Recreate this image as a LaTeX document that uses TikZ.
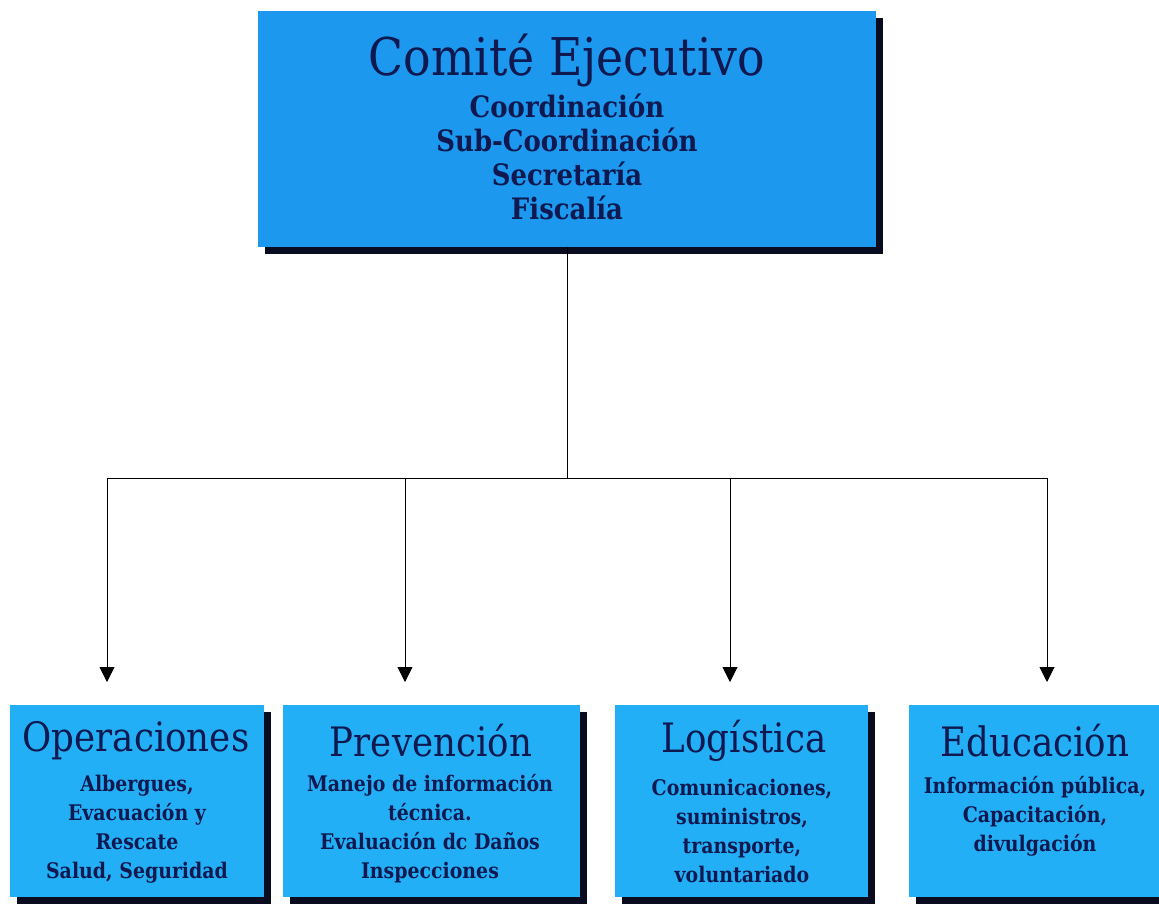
\documentclass[tikz,border=0pt]{standalone}
\usepackage{fontspec}
\setmainfont{DejaVu Serif}[FakeStretch=0.88]
\usetikzlibrary{arrows.meta,shadows}
\definecolor{topblue}{RGB}{28,152,238}
\definecolor{boxblue}{RGB}{35,175,245}
\definecolor{ink}{RGB}{15,25,80}
\definecolor{shade}{RGB}{8,12,30}
\begin{document}
\begin{tikzpicture}[x=1pt,y=-1pt,
  box/.style={draw=none, fill=#1, inner sep=0pt,
    general shadow={fill=shade, shadow xshift=7pt, shadow yshift=-7pt}},
  bigtitle/.style={text=ink, inner sep=0pt, font=\fontsize{52}{56}\selectfont},
  toplines/.style={text=ink, inner sep=0pt, align=center, font=\fontsize{29.5}{34}\selectfont\bfseries},
  subtitle/.style={text=ink, inner sep=0pt, font=\fontsize{40.5}{44}\selectfont},
  sublines/.style={text=ink, inner sep=0pt, align=center, font=\fontsize{21.5}{29}\selectfont\bfseries},
  conn/.style={draw=black, line width=0.9pt},
  arr/.style={conn, -{Triangle[width=15pt,length=15pt]}}
]
\useasboundingbox (0,0) rectangle (1159,903);
\fill[white] (0,0) rectangle (1159,903);
\clip (0,0) rectangle (1159,903);

% top box
\node[box=topblue, minimum width=618pt, minimum height=236pt] (top) at (567,129) {};
\node[bigtitle] (toptitle) at (567,60) {Comité Ejecutivo};
\node[toplines] (toptext) at (567,157) {Coordinación\\Sub-Coordinación\\Secretaría\\Fiscalía};

% bottom boxes
\node[box=boxblue, minimum width=254pt, minimum height=192pt] (op) at (137,801) {};
\node[box=boxblue, minimum width=297pt, minimum height=192pt] (pre) at (431.5,801) {};
\node[box=boxblue, minimum width=253pt, minimum height=192pt] (log) at (741.5,801) {};
\node[box=boxblue, minimum width=252pt, minimum height=192pt] (edu) at (1035,801) {};

\node[subtitle] (opt) at (136,741) {Operaciones};
\node[subtitle] (pret) at (431,741) {Prevención};
\node[subtitle] (logt) at (744,741) {Logística};
\node[subtitle] (edut) at (1035,741) {Educación};

\node[sublines] (ops) at (137,829) {Albergues,\\Evacuación y\\Rescate\\Salud, Seguridad};
\node[sublines] (pres) at (430,829) {Manejo de información\\técnica.\\Evaluación dc Daños\\Inspecciones};
\node[sublines] (logs) at (742,831) {Comunicaciones,\\suministros,\\transporte,\\voluntariado};
\node[sublines] (edus) at (1035,816) {Información pública,\\Capacitación,\\divulgación};

% connectors
\coordinate (j1) at (107,478);
\coordinate (j2) at (405,478);
\coordinate (j3) at (730,478);
\coordinate (j4) at (1047,478);
\coordinate (e1) at (107,682);
\coordinate (e2) at (405,682);
\coordinate (e3) at (730,682);
\coordinate (e4) at (1047,682);
\draw[conn] (top.south) -- (top.south |- j1);
\draw[conn] (j1) -- (j4);
\draw[arr] (j1) -- (e1);
\draw[arr] (j2) -- (e2);
\draw[arr] (j3) -- (e3);
\draw[arr] (j4) -- (e4);
\end{tikzpicture}
\end{document}
